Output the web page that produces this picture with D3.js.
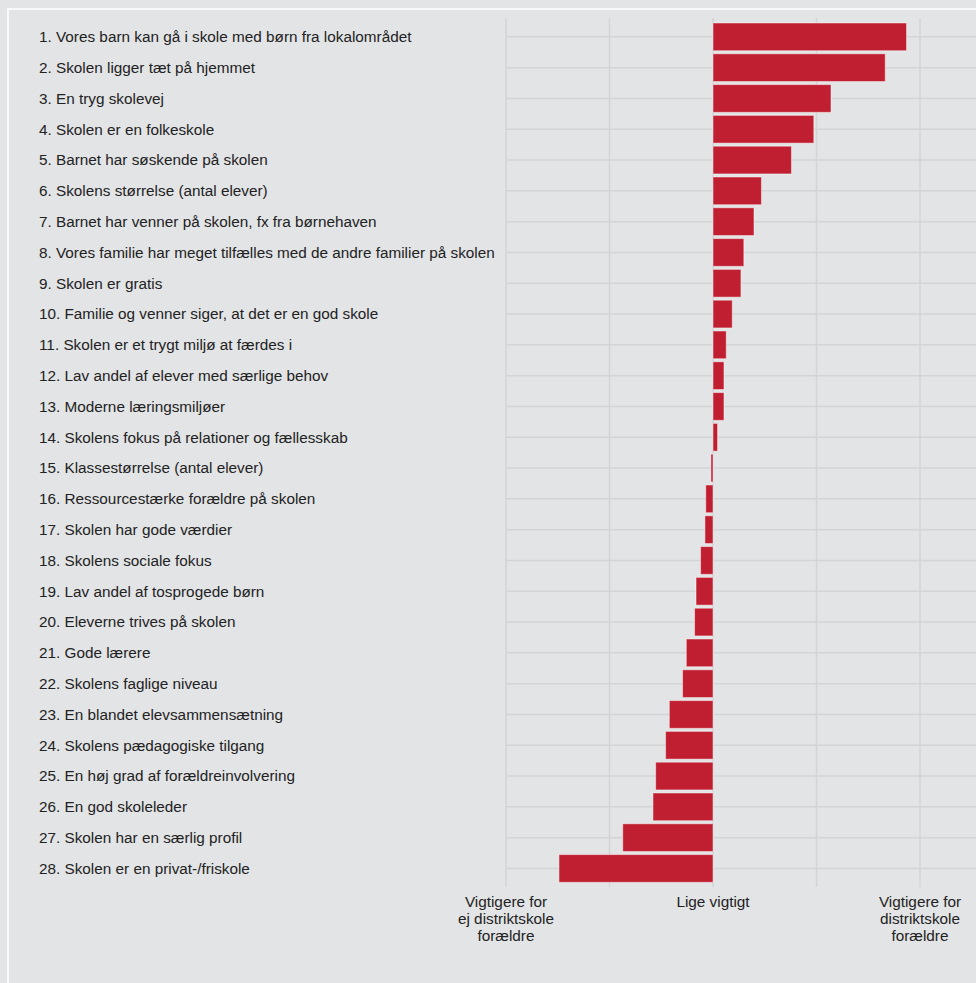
<!DOCTYPE html>
<html>
<head>
<meta charset="utf-8">
<script src="https://cdn.jsdelivr.net/npm/d3@7"></script>
<style>
  html, body { margin: 0; padding: 0; background: #e3e4e6; }
  svg { display: block; }
  text { font-family: "Liberation Sans", Arial, sans-serif; }
</style>
</head>
<body>
<svg id="chart" width="976" height="983"></svg>
<script>
const categories = [
  "1. Vores barn kan gå i skole med børn fra lokalområdet",
  "2. Skolen ligger tæt på hjemmet",
  "3. En tryg skolevej",
  "4. Skolen er en folkeskole",
  "5. Barnet har søskende på skolen",
  "6. Skolens størrelse (antal elever)",
  "7. Barnet har venner på skolen, fx fra børnehaven",
  "8. Vores familie har meget tilfælles med de andre familier på skolen",
  "9. Skolen er gratis",
  "10. Familie og venner siger, at det er en god skole",
  "11. Skolen er et trygt miljø at færdes i",
  "12. Lav andel af elever med særlige behov",
  "13. Moderne læringsmiljøer",
  "14. Skolens fokus på relationer og fællesskab",
  "15. Klassestørrelse (antal elever)",
  "16. Ressourcestærke forældre på skolen",
  "17. Skolen har gode værdier",
  "18. Skolens sociale fokus",
  "19. Lav andel af tosprogede børn",
  "20. Eleverne trives på skolen",
  "21. Gode lærere",
  "22. Skolens faglige niveau",
  "23. En blandet elevsammensætning",
  "24. Skolens pædagogiske tilgang",
  "25. En høj grad af forældreinvolvering",
  "26. En god skoleleder",
  "27. Skolen har en særlig profil",
  "28. Skolen er en privat-/friskole"
];
const values = [
  0.935, 0.832, 0.570, 0.487, 0.379, 0.234, 0.198, 0.149, 0.135, 0.093,
  0.064, 0.053, 0.053, 0.022, -0.010, -0.035, -0.039, -0.060, -0.082, -0.089,
  -0.129, -0.147, -0.211, -0.229, -0.277, -0.290, -0.436, -0.744
];
const gridValues = [-1, -0.5, 0, 0.5, 1];
const tickValues = [-1, 0, 1];
const tickLabels = [
  ["Vigtigere for", "ej distriktskole", "forældre"],
  ["Lige vigtigt"],
  ["Vigtigere for", "distriktskole", "forældre"]
];

const svg = d3.select("#chart");
const W = 976, H = 983;

// white frame
svg.append("rect")
  .attr("x", 8).attr("y", 9)
  .attr("width", 1200).attr("height", 1200)
  .attr("fill", "none").attr("stroke", "#ffffff").attr("stroke-width", 1.5);

const x = d3.scaleLinear().domain([-1, 1]).range([506, 920]);
const y = d3.scaleBand().domain(categories).range([21.46, 883.86])
  .paddingInner(0.1).paddingOuter(0.05);

const gridColor = "#d3d4d6";

// horizontal gridlines at band centres
svg.append("g").selectAll("line").data(categories).join("line")
  .attr("x1", x(-1)).attr("x2", W + 10)
  .attr("y1", d => y(d) + y.bandwidth() / 2)
  .attr("y2", d => y(d) + y.bandwidth() / 2)
  .attr("stroke", gridColor).attr("stroke-width", 1.5);

// vertical gridlines
svg.append("g").selectAll("line").data(gridValues).join("line")
  .attr("x1", d => x(d)).attr("x2", d => x(d))
  .attr("y1", 18).attr("y2", 887)
  .attr("stroke", gridColor).attr("stroke-width", 1.5);

// bars
svg.append("g").selectAll("rect").data(values).join("rect")
  .attr("x", d => Math.min(x(0), x(d)))
  .attr("width", d => Math.abs(x(d) - x(0)))
  .attr("y", (d, i) => y(categories[i]))
  .attr("height", y.bandwidth())
  .attr("fill", "#c01f32")
  .attr("stroke", "rgba(255,255,255,0.45)")
  .attr("stroke-width", 1);

// category labels
svg.append("g").selectAll("text").data(categories).join("text")
  .attr("x", 39)
  .attr("y", d => y(d) + y.bandwidth() / 2)
  .attr("dy", "0.35em")
  .attr("font-size", 15.3)
  .attr("fill", "#222222")
  .text(d => d);

// bottom axis labels
const tg = svg.append("g").selectAll("text").data(tickValues).join("text")
  .attr("x", d => x(d))
  .attr("y", 907)
  .attr("text-anchor", "middle")
  .attr("font-size", 15.3)
  .attr("fill", "#222222");
tg.each(function(d, i) {
  const t = d3.select(this);
  tickLabels[i].forEach((line, j) => {
    t.append("tspan").attr("x", x(d)).attr("dy", j === 0 ? 0 : 17).text(line);
  });
});
</script>
</body>
</html>
